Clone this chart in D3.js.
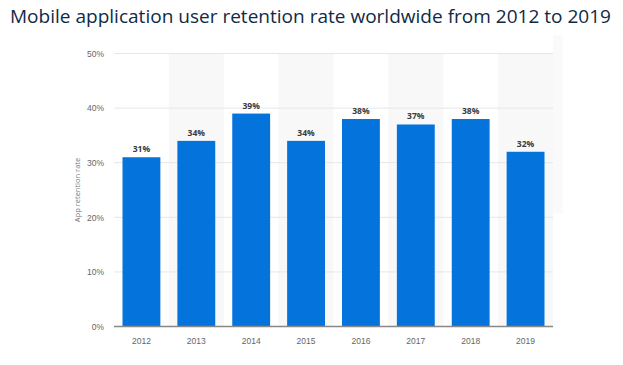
<!DOCTYPE html>
<html>
<head>
<meta charset="utf-8">
<script src="https://cdn.jsdelivr.net/npm/d3@7"></script>
<style>
  body { margin: 0; background: #fff; }
  svg { display: block; font-family: "Open Sans", sans-serif; }
</style>
</head>
<body>
<svg id="chart" width="623" height="365"></svg>
<script>
const years = ["2012", "2013", "2014", "2015", "2016", "2017", "2018", "2019"];
const retention = [31, 34, 39, 34, 38, 37, 38, 32];
const yTicks = [0, 10, 20, 30, 40, 50];

const width = 623, height = 365;
const margin = {top: 53.5, right: 70, bottom: 38.5, left: 114};

const svg = d3.select("#chart");

svg.append("text")
    .attr("x", 10)
    .attr("y", 23)
    .attr("fill", "#0f2a45")
    .attr("textLength", 601)
    .attr("lengthAdjust", "spacingAndGlyphs")
    .style("font-size", "18.5px")
    .text("Mobile application user retention rate worldwide from 2012 to 2019");

const x = d3.scaleBand()
    .domain(years)
    .range([margin.left, width - margin.right])
    .paddingInner(0.31)
    .paddingOuter(0.155);

const y = d3.scaleLinear()
    .domain([0, 50])
    .range([height - margin.bottom, margin.top]);

// faint panel at right edge
svg.append("rect")
    .attr("x", width - margin.right)
    .attr("y", margin.top - 18)
    .attr("width", 10)
    .attr("height", y(0) - margin.top - 95)
    .attr("fill", "#fafafa");

// alternating band shading
const step = x.step();
svg.append("g")
  .selectAll("rect")
  .data(years.filter((d, i) => i % 2 == 1))
  .join("rect")
    .attr("x", d => x(d) - step * x.paddingInner() / 2)
    .attr("y", y(50))
    .attr("width", step)
    .attr("height", y(0) - y(50))
    .attr("fill", "#f8f8f8");

// grid
svg.append("g")
  .selectAll("line")
  .data(yTicks.slice(1))
  .join("line")
    .attr("x1", margin.left)
    .attr("x2", width - margin.right)
    .attr("y1", d => y(d))
    .attr("y2", d => y(d))
    .attr("stroke", "#e6e6e6")
    .attr("stroke-width", 1);

const yAxis = svg.append("g")
    .attr("transform", `translate(${margin.left - 10},0)`)
    .call(d3.axisLeft(y).tickValues(yTicks).tickFormat(d => d + "%").tickSize(0).tickPadding(0));
yAxis.select(".domain").remove();
yAxis.selectAll("text").attr("fill", "#666").style("font-size", "8.5px");

svg.append("text")
    .attr("transform", `translate(80,${(y(0) + y(50)) / 2}) rotate(-90)`)
    .attr("text-anchor", "middle")
    .attr("fill", "#777")
    .style("font-size", "7.5px")
    .text("App retention rate");

// bars
svg.append("g")
  .selectAll("rect")
  .data(retention)
  .join("rect")
    .attr("x", (d, i) => x(years[i]))
    .attr("y", d => y(d))
    .attr("width", x.bandwidth())
    .attr("height", d => y(0) - y(d))
    .attr("fill", "#0474dc");

svg.append("g")
  .selectAll("text")
  .data(retention)
  .join("text")
    .attr("x", (d, i) => x(years[i]) + x.bandwidth() / 2)
    .attr("y", d => y(d) - 5)
    .attr("text-anchor", "middle")
    .attr("fill", "#3a3a3a")
    .style("font-size", "8.5px")
    .style("font-weight", "bold")
    .text(d => d + "%");

// x axis
svg.append("line")
    .attr("x1", margin.left)
    .attr("x2", width - margin.right)
    .attr("y1", y(0))
    .attr("y2", y(0))
    .attr("stroke", "#888")
    .attr("stroke-width", 1.5);

const xAxis = svg.append("g")
    .attr("transform", `translate(0,${y(0)})`)
    .call(d3.axisBottom(x).tickSize(0).tickPadding(11));
xAxis.select(".domain").remove();
xAxis.selectAll("text").attr("fill", "#666").style("font-size", "8.5px");
</script>
</body>
</html>
